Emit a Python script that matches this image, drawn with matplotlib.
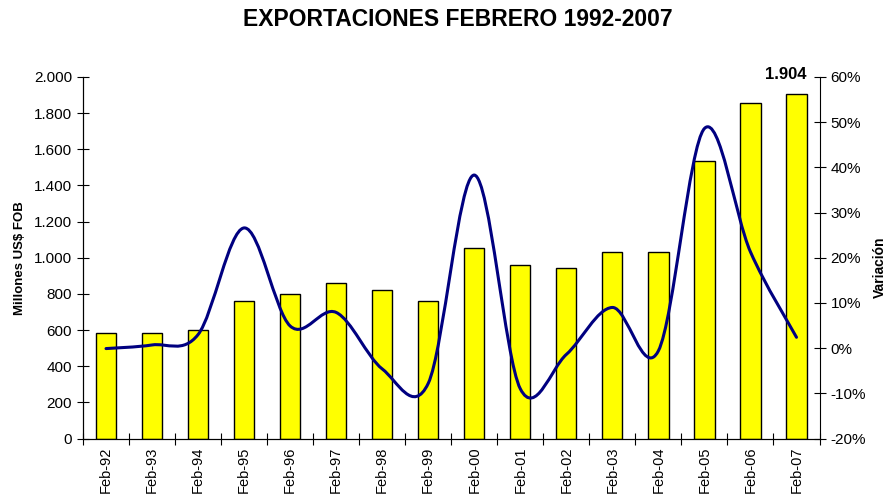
import matplotlib
matplotlib.use("Agg")
import matplotlib.pyplot as plt
from matplotlib.path import Path
from matplotlib.patches import PathPatch
from matplotlib.ticker import FuncFormatter, MultipleLocator, FixedLocator
import numpy as np

plt.rcParams['font.family'] = ['Liberation Sans', 'DejaVu Sans']

categories = ["Feb-92", "Feb-93", "Feb-94", "Feb-95", "Feb-96", "Feb-97", "Feb-98", "Feb-99",
              "Feb-00", "Feb-01", "Feb-02", "Feb-03", "Feb-04", "Feb-05", "Feb-06", "Feb-07"]
exports = [582, 582, 599, 761, 798, 860, 822, 761, 1052, 960, 945, 1030, 1030, 1534, 1858, 1904]
variation = [-0.1, 0.7, 3.0, 26.6, 4.9, 7.9, -4.6, -7.8, 38.3, -9.0, -1.4, 9.0, -0.6, 48.6, 21.3, 2.4]
title = "EXPORTACIONES FEBRERO 1992-2007"
last_label = "1.904"

W, H = 892, 497
fig = plt.figure(figsize=(W / 100, H / 100), dpi=100)
L, R, T, B = 83, 819.5, 77, 438.5
ax = fig.add_axes([L / W, 1 - B / H, (R - L) / W, (B - T) / H])
ax2 = ax.twinx()

x = np.arange(len(categories))
ax.bar(x, exports, width=0.44, color="#FFFF00", edgecolor="black", linewidth=1.0, zorder=2)
ax.set_xlim(-0.5, len(categories) - 0.5)
ax.set_ylim(0, 2000)
ax.yaxis.set_major_locator(MultipleLocator(200))
ax.yaxis.set_major_formatter(FuncFormatter(lambda v, p: f"{int(v):,}".replace(",", ".")))

ax2.set_ylim(-20, 60)
ax2.yaxis.set_major_locator(MultipleLocator(10))
ax2.yaxis.set_major_formatter(FuncFormatter(lambda v, p: f"{int(round(v))}%"))

# Smoothed line (Excel-style Bezier through data points)
pts = np.column_stack([x, variation]).astype(float)
n = len(pts)
verts = [tuple(pts[0])]
codes = [Path.MOVETO]
for i in range(n - 1):
    p0 = pts[i - 1] if i > 0 else pts[i]
    p1 = pts[i]
    p2 = pts[i + 1]
    p3 = pts[i + 2] if i + 2 < n else pts[i + 1]
    c1 = p1 + (p2 - p0) / 6.0
    c2 = p2 - (p3 - p1) / 6.0
    verts += [tuple(c1), tuple(c2), tuple(p2)]
    codes += [Path.CURVE4] * 3
ax2.add_patch(PathPatch(Path(verts, codes), facecolor="none", edgecolor="#000080",
                        linewidth=2.2, zorder=3, capstyle="round", joinstyle="round"))
ax.set_zorder(1)
ax2.set_zorder(2)
ax2.patch.set_visible(False)

# x ticks: labels at centres, tick marks at boundaries
ax.xaxis.set_major_locator(FixedLocator(x))
ax.set_xticklabels(categories, rotation=90, fontsize=10.5)
ax.xaxis.set_minor_locator(FixedLocator(np.arange(-0.5, len(categories), 1.0)))
ax.tick_params(axis="x", which="major", length=0, pad=6)
ax.tick_params(axis="x", which="minor", length=8, direction="inout", width=0.8)
ax.tick_params(axis="y", which="major", length=8, direction="inout", width=0.8, labelsize=11, pad=4)
ax2.tick_params(axis="y", which="major", length=8, direction="inout", width=0.8, labelsize=11, pad=4)

for a in (ax, ax2):
    a.spines["top"].set_visible(False)
    for s in ("left", "right", "bottom"):
        a.spines[s].set_linewidth(0.8)
ax.spines["right"].set_visible(False)

ax.set_ylabel("Millones US$ FOB", fontsize=9.5, fontweight="bold")
ax.yaxis.set_label_coords(-0.078, 0.5)
fig.text(880 / W, 1 - 267 / H, "Variación", rotation=90, fontsize=10, fontweight="bold",
         ha="center", va="center")

fig.text(457.5 / W, 1 - 19.5 / H, title, fontsize=16.5, fontweight="bold", ha="center", va="center")

ax.annotate(last_label, (x[-1], exports[-1]), xytext=(-8, 9), textcoords="offset points",
            ha="center", va="bottom", fontsize=12, fontweight="bold", annotation_clip=False)

fig.savefig("out.png", dpi=100)
